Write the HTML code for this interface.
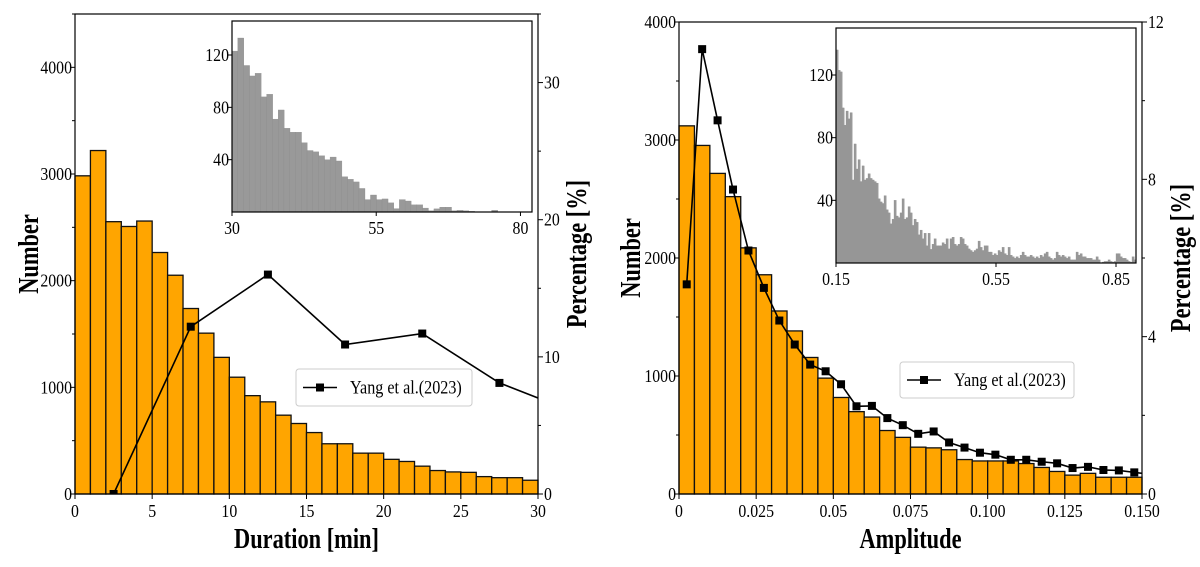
<!DOCTYPE html>
<html><head><meta charset="utf-8">
<style>
html,body{margin:0;padding:0;background:#fff;}
svg{display:block;font-family:"Liberation Serif",serif;}
</style></head>
<body>
<svg id="svg" width="1200" height="567" viewBox="0 0 1200 567" xmlns="http://www.w3.org/2000/svg"></svg>
<script>
// ---- Left panel data ----
const durCounts = [2983,3220,2553,2508,2559,2264,2051,1739,1508,1281,1095,922,864,739,661,576,471,471,383,383,325,305,261,220,207,203,163,153,153,129];
const durPctX = [2.5,7.5,12.5,17.5,22.5,27.5,32.5];
const durPctY = [0,12.2,16.0,10.9,11.7,8.1,5.9];
const durInset = [123,133,112,104,106,88,90,71,78,64,61,61,53,47,46,43,40,42,39,27,25,23,18,9.5,13,9.5,10,7,2.6,9.5,8.4,5.5,5.5,3,1,2.4,3.7,3.7,1,1.3,1,0.5,0,0,0,1.3,0,0,0,0,0,0];
const durTicks = [0,5,10,15,20,25,30];
const durInsetTicks = [30,55,80];
// ---- Right panel data ----
const ampCounts = [3120,2954,2717,2520,2086,1858,1551,1382,1157,982,818,698,652,538,480,397,391,375,292,280,280,280,258,225,191,160,175,142,142,142];
const ampPctX = [0.0025,0.0075,0.0125,0.0175,0.0225,0.0275,0.0325,0.0375,0.0425,0.0475,0.0525,0.0575,0.0625,0.0675,0.0725,0.0775,0.0825,0.0875,0.0925,0.0975,0.1025,0.1075,0.1125,0.1175,0.1225,0.1275,0.1325,0.1375,0.1425,0.1475,0.1525];
const ampPctY = [5.33,11.31,9.5,7.74,6.19,5.24,4.41,3.8,3.29,3.12,2.79,2.23,2.24,1.93,1.75,1.53,1.59,1.31,1.18,1.05,1.0,0.87,0.87,0.82,0.78,0.66,0.69,0.61,0.6,0.55,0.5];
const ampInset = [136,123,122,99,88,97,92,96,53,76,60,66,52,62,53,54,57,54,53,52,51,41,39,38,43,34,32,25,28,40,30,29,32,41,28,29,36,32,24,28,26,18,21,15.5,19,11,19,8.7,12,15.5,11,11,11,13,12,15.5,9,15.5,16.5,12,11,12,16.5,15.5,12,11,9,8,7,8,9,14,10,8,11,11,7,7,5,6,5,8,7,10,6,5,10,5,4,3,4,3,5,7,5,4,4,5,4,3,4,3,5,4,6,7,4,3,2,3,7,5,4,5,4,3,4,2,2,2,7,5,6,4,4,3,3,3,2,2,4,2,0,0.6,1,1,2,1,0.6,1,6,6,4,3,3,2,1,0.6,4,2];
const ampTickVals = [0,0.025,0.05,0.075,0.1,0.125,0.15];
const ampTickLabels = ["0","0.025","0.05","0.075","0.100","0.125","0.150"];
const ampInsetTicks = [0.15,0.55,0.85];

const NS="http://www.w3.org/2000/svg";
const svg=document.getElementById('svg');
function el(tag,attrs,parent){const e=document.createElementNS(NS,tag);for(const k in attrs)e.setAttribute(k,attrs[k]);(parent||svg).appendChild(e);return e;}
// text at (x,y) squeezed horizontally by sc, optionally rotated
function stxt(s,x,y,size,anchor,parent,sc,rot,bold){
  const e=document.createElementNS(NS,'text');
  e.setAttribute('x',0);e.setAttribute('y',0);
  e.setAttribute('font-size',size);
  e.setAttribute('text-anchor',anchor);
  if(bold)e.setAttribute('font-weight','bold');
  e.setAttribute('transform',`translate(${x},${y})${rot?' rotate(-90)':''} scale(${sc},1)`);
  e.textContent=s;parent.appendChild(e);return e;
}
const TS=0.88, TF=18;

function panel(o){
  const g=el('g',{});
  
  
  const sx=v=>o.x0+(v-o.xmin)/(o.xmax-o.xmin)*(o.x1-o.x0);
  const sy=v=>o.yb-(v/o.ymax)*(o.yb-o.yt);
  const sy2=v=>o.yb-(v/o.y2max)*(o.yb-o.yt);
  const clipId='clip'+o.id;
  const cp=el('clipPath',{id:clipId},g);el('rect',{x:o.x0,y:o.yt,width:o.x1-o.x0,height:o.yb-o.yt},cp);
  o.counts.forEach((c,i)=>{
    const a=sx(o.xmin+i*o.bw),b=sx(o.xmin+(i+1)*o.bw);
    const r=el('rect',{x:a,y:sy(c),width:b-a,height:sy(0)-sy(c),fill:'#FFA500',stroke:'#111','stroke-width':1.3},g);
    
    
  });
  const lg=el('g',{'clip-path':'url(#'+clipId+')'},g);
  const pts=o.px.map((x,i)=>sx(x)+','+sy2(o.py[i])).join(' ');
  const pl=el('polyline',{points:pts,fill:'none',stroke:'#000','stroke-width':1.6},lg);
  
  
  o.px.forEach((x,i)=>{
    const m=el('rect',{x:sx(x)-4,y:sy2(o.py[i])-4,width:8,height:8,fill:'#000'},lg);
    
    
  });
  el('rect',{x:o.x0,y:o.yt,width:o.x1-o.x0,height:o.yb-o.yt,fill:'none',stroke:'#000','stroke-width':1.2},g);
  o.xt.forEach((v,i)=>{
    const x=sx(v);el('line',{x1:x,x2:x,y1:o.yb,y2:o.yb+5,stroke:'#000'},g);
    const t=stxt(o.xtl?o.xtl[i]:String(v),x,o.yb+23,TF,'middle',g,TS);
    
    
  });
  for(let v=0;v<=o.ymax+1e-9;v+=500){
    const y=sy(v);const major=v%1000===0;
    el('line',{x1:o.x0,x2:o.x0-(major?5:3),y1:y,y2:y,stroke:'#000'},g);
    if(major){const t=stxt(String(v),o.x0-3,y+6,TF,'end',g,TS);
      
      }
  }
  for(let v=0;v<=o.y2max+1e-9;v+=o.y2minor){
    const y=sy2(v);const major=Math.abs(v/o.y2major-Math.round(v/o.y2major))<1e-6;
    el('line',{x1:o.x1,x2:o.x1+(major?5:3),y1:y,y2:y,stroke:'#000'},g);
    if(major){const t=stxt(String(Math.round(v)),o.x1+6,y+6,TF,'start',g,TS);
      
      }
  }
  const xt=stxt(o.xtitle,(o.x0+o.x1)/2,548,28,'middle',g,0.8,false,true);
  
  
  const yt=stxt('Number',o.ylx,(o.yt+o.yb)/2,28,'middle',g,0.8,true,true);
  
  
  const y2=stxt('Percentage [%]',o.y2lx,(o.yt+o.yb)/2,28,'middle',g,0.8,true,true);
  
  
  const L=o.leg;
  const lgd=el('g',{},g);
  
  
  el('rect',{x:L.x,y:L.y,width:L.w,height:L.h,rx:3,fill:'#fff','fill-opacity':0.85,stroke:'#ccc'},lgd);
  el('line',{x1:L.x+7,x2:L.x+41,y1:L.y+L.h/2,y2:L.y+L.h/2,stroke:'#000','stroke-width':1.6},lgd);
  el('rect',{x:L.x+20,y:L.y+L.h/2-4,width:8,height:8,fill:'#000'},lgd);
  const lt=stxt('Yang et al.(2023)',L.x+54,L.y+L.h/2+6,19,'start',lgd,0.85);
  
  
  const I=o.inset;
  const ig=el('g',{},g);
  
  
  el('rect',{x:I.x0,y:I.yt,width:I.x1-I.x0,height:I.yb-I.yt,fill:'#fff'},ig);
  const ix=v=>I.x0+(v-I.xmin)/(I.xmax-I.xmin)*(I.x1-I.x0);
  const iy=v=>I.yb-v/I.ymax*(I.yb-I.yt);
  I.data.forEach((c,i)=>{
    if(c<=0)return;
    const a=ix(I.xmin+i*I.bw),b=ix(I.xmin+(i+1)*I.bw);
    const r=el('rect',{x:a,y:iy(c),width:b-a+0.3,height:I.yb-iy(c),fill:'#999',stroke:'#8a8a8a','stroke-width':0.3},ig);
    
    
  });
  el('rect',{x:I.x0,y:I.yt,width:I.x1-I.x0,height:I.yb-I.yt,fill:'none',stroke:'#000','stroke-width':1.2},ig);
  I.xt.forEach(v=>{const x=ix(v);el('line',{x1:x,x2:x,y1:I.yb,y2:I.yb+4,stroke:'#000'},ig);
    const t=stxt(String(v),x,I.yb+22,TF,'middle',ig,TS);
    
    });
  [40,80,120].forEach(v=>{const y=iy(v);el('line',{x1:I.x0,x2:I.x0-4,y1:y,y2:y,stroke:'#000'},ig);
    const t=stxt(String(v),I.x0-3,y+6,TF,'end',ig,TS);
    
    });
}

panel({id:'L',name:'duration-panel',x0:75,x1:538,xmin:0,xmax:30,yt:14,yb:494,ymax:4500,y2max:35,y2major:10,y2minor:5,
  counts:durCounts,bw:1,px:durPctX,py:durPctY,xt:durTicks,xtitle:'Duration [min]',ylx:38,y2lx:586,
  leg:{x:296,y:369,w:176,h:37},
  inset:{x0:232,x1:532,yt:21,yb:212,xmin:30,xmax:82,ymax:146,bw:1,data:durInset,xt:durInsetTicks}});
panel({id:'R',name:'amplitude-panel',x0:679,x1:1142,xmin:0,xmax:0.15,yt:22,yb:494,ymax:4000,y2max:12,y2major:4,y2minor:2,
  counts:ampCounts,bw:0.005,px:ampPctX,py:ampPctY,xt:ampTickVals,xtl:ampTickLabels,xtitle:'Amplitude',ylx:640,y2lx:1190,
  leg:{x:900,y:362,w:174,h:36},
  inset:{x0:836,x1:1136,yt:28,yb:263,xmin:0.15,xmax:0.9,ymax:150,bw:0.005,data:ampInset,xt:ampInsetTicks}});
</script>
</body></html>
